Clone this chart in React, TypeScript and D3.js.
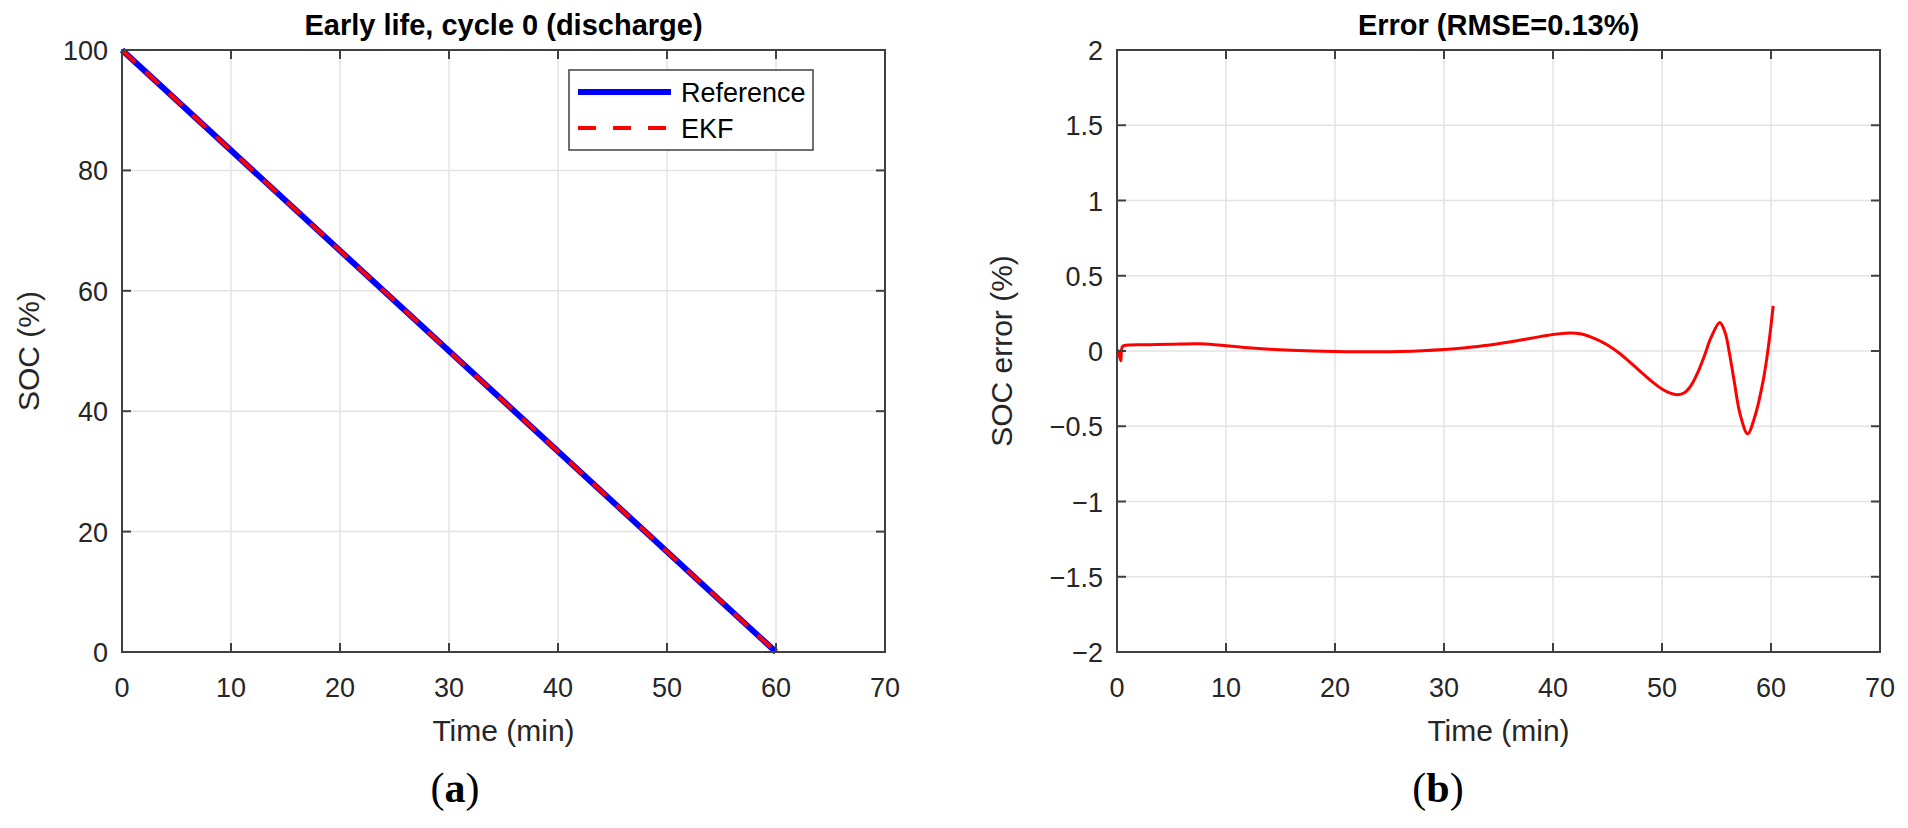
import React from "react";
import * as d3 from "d3";

// ---- data ----
const refTime = [0, 60];
const refSoc = [100, 0];
const ekfTime = [0, 60];
const ekfSoc = [100, 0];

const errTime = [0, 0.15, 0.35, 0.5, 1, 3, 5, 7.5, 9, 10, 12, 14, 16, 18, 20, 22, 24, 26, 28, 30, 32, 34, 36, 38, 40, 41.5, 42.5, 44, 45, 46, 47, 48, 49, 50, 50.7, 51.4, 52.1, 52.7, 53.3, 53.9, 54.5, 55.3, 55.8, 56.2, 56.6, 57.2, 57.86, 58.5, 59.3, 59.8, 60.2];
const errVal = [0.01, -0.01, -0.065, 0.03, 0.04, 0.042, 0.045, 0.048, 0.042, 0.035, 0.022, 0.012, 0.005, 0.0, -0.003, -0.005, -0.005, -0.003, 0.002, 0.01, 0.022, 0.038, 0.06, 0.085, 0.11, 0.12, 0.115, 0.078, 0.04, -0.01, -0.07, -0.135, -0.198, -0.252, -0.278, -0.29, -0.275, -0.225, -0.14, -0.03, 0.09, 0.19, 0.12, -0.02, -0.19, -0.43, -0.55, -0.44, -0.19, 0.05, 0.3];

const xTicks = [0, 10, 20, 30, 40, 50, 60, 70];
const socTicks = [0, 20, 40, 60, 80, 100];
const errTicks = [-2, -1.5, -1, -0.5, 0, 0.5, 1, 1.5, 2];

const titleA = "Early life, cycle 0 (discharge)";
const titleB = "Error (RMSE=0.13%)";
const xLabel = "Time (min)";
const yLabelA = "SOC (%)";
const yLabelB = "SOC error (%)";
const legendNames = ["Reference", "EKF"];

// ---- layout ----
const W = 1908;
const H = 828;
const top = 50;
const bottom = 652;
const axW = 763;
const leftA = 122;
const leftB = 1117;

const FONT = "'Liberation Sans', Arial, Helvetica, sans-serif";
const AXIS = "#404040";
const GRID = "#e3e3e3";
const TXT = "#262626";

const fmt = (v: number) => (v < 0 ? "\u2212" + String(Math.abs(v)) : String(v));

function Axes({
  left,
  x,
  y,
  yTicks,
  title,
  yLabel,
  yLabelX,
  children,
}: {
  left: number;
  x: d3.ScaleLinear<number, number>;
  y: d3.ScaleLinear<number, number>;
  yTicks: number[];
  title: string;
  yLabel: string;
  yLabelX: number;
  children?: React.ReactNode;
}) {
  const right = left + axW;
  const tl = 9;
  return (
    <g>
      {xTicks.slice(1, -1).map((t) => (
        <line key={"gx" + t} x1={x(t)} x2={x(t)} y1={top} y2={bottom} stroke={GRID} strokeWidth={1.5} />
      ))}
      {yTicks.slice(1, -1).map((t) => (
        <line key={"gy" + t} x1={left} x2={right} y1={y(t)} y2={y(t)} stroke={GRID} strokeWidth={1.5} />
      ))}
      {children}
      <rect x={left} y={top} width={axW} height={bottom - top} fill="none" stroke={AXIS} strokeWidth={2} />
      {xTicks.map((t) => (
        <g key={"tx" + t}>
          <line x1={x(t)} x2={x(t)} y1={bottom} y2={bottom - tl} stroke={AXIS} strokeWidth={2} />
          <line x1={x(t)} x2={x(t)} y1={top} y2={top + tl} stroke={AXIS} strokeWidth={2} />
          <text x={x(t)} y={697} textAnchor="middle" fontFamily={FONT} fontSize={27} fill={TXT}>
            {fmt(t)}
          </text>
        </g>
      ))}
      {yTicks.map((t) => (
        <g key={"ty" + t}>
          <line x1={left} x2={left + tl} y1={y(t)} y2={y(t)} stroke={AXIS} strokeWidth={2} />
          <line x1={right} x2={right - tl} y1={y(t)} y2={y(t)} stroke={AXIS} strokeWidth={2} />
          <text x={left - 14} y={y(t) + 10} textAnchor="end" fontFamily={FONT} fontSize={27} fill={TXT}>
            {fmt(t)}
          </text>
        </g>
      ))}
      <text x={left + axW / 2} y={35} textAnchor="middle" fontFamily={FONT} fontSize={29} fontWeight="bold" fill="#000">
        {title}
      </text>
      <text x={left + axW / 2} y={741} textAnchor="middle" fontFamily={FONT} fontSize={30} fill={TXT}>
        {xLabel}
      </text>
      <text
        transform={`translate(${yLabelX},${(top + bottom) / 2}) rotate(-90)`}
        textAnchor="middle"
        fontFamily={FONT}
        fontSize={30}
        fill={TXT}
      >
        {yLabel}
      </text>
    </g>
  );
}

export default function App() {
  const xA = d3.scaleLinear().domain([0, 70]).range([leftA, leftA + axW]);
  const yA = d3.scaleLinear().domain([0, 100]).range([bottom, top]);
  const xB = d3.scaleLinear().domain([0, 70]).range([leftB, leftB + axW]);
  const yB = d3.scaleLinear().domain([-2, 2]).range([bottom, top]);

  const lineA = d3
    .line<number>()
    .x((_, i) => xA(refTime[i]))
    .y((d) => yA(d));
  const lineE = d3
    .line<number>()
    .x((_, i) => xA(ekfTime[i]))
    .y((d) => yA(d));
  const lineErr = d3
    .line<number>()
    .x((_, i) => xB(errTime[i]))
    .y((d) => yB(d))
    .curve(d3.curveCatmullRom.alpha(0.5));

  const lgX = 569;
  const lgY = 70;
  const lgW = 244;
  const lgH = 80;

  return (
    <svg
      width={W}
      height={H}
      viewBox={`0 0 ${W} ${H}`}
      style={{ position: "absolute", left: 0, top: 0, display: "block", background: "#fff" }}
    >
      <rect x={0} y={0} width={W} height={H} fill="#fff" />
      <Axes left={leftA} x={xA} y={yA} yTicks={socTicks} title={titleA} yLabel={yLabelA} yLabelX={39}>
        <path d={lineA(refSoc) || ""} fill="none" stroke="#0000ff" strokeWidth={6} />
        <path d={lineE(ekfSoc) || ""} fill="none" stroke="#ff0000" strokeWidth={4} strokeDasharray="18 14" />
      </Axes>
      <g>
        <rect x={lgX} y={lgY} width={lgW} height={lgH} fill="#fff" stroke={AXIS} strokeWidth={1.5} />
        <line x1={578} x2={671} y1={92} y2={92} stroke="#0000ff" strokeWidth={6} />
        <line x1={578} x2={671} y1={128} y2={128} stroke="#ff0000" strokeWidth={4} strokeDasharray="18 17" />
        <text x={681} y={102} fontFamily={FONT} fontSize={27} fill="#000">
          {legendNames[0]}
        </text>
        <text x={681} y={138} fontFamily={FONT} fontSize={27} fill="#000">
          {legendNames[1]}
        </text>
      </g>
      <Axes left={leftB} x={xB} y={yB} yTicks={errTicks} title={titleB} yLabel={yLabelB} yLabelX={1012}>
        <path d={lineErr(errVal) || ""} fill="none" stroke="#ff0000" strokeWidth={3} />
      </Axes>
      <text x={455} y={802} textAnchor="middle" fontFamily="'Liberation Serif', 'DejaVu Serif', serif" fontSize={42} fill="#000">
        (<tspan fontWeight="bold">a</tspan>)
      </text>
      <text x={1438} y={802} textAnchor="middle" fontFamily="'Liberation Serif', 'DejaVu Serif', serif" fontSize={42} fill="#000">
        (<tspan fontWeight="bold">b</tspan>)
      </text>
    </svg>
  );
}
